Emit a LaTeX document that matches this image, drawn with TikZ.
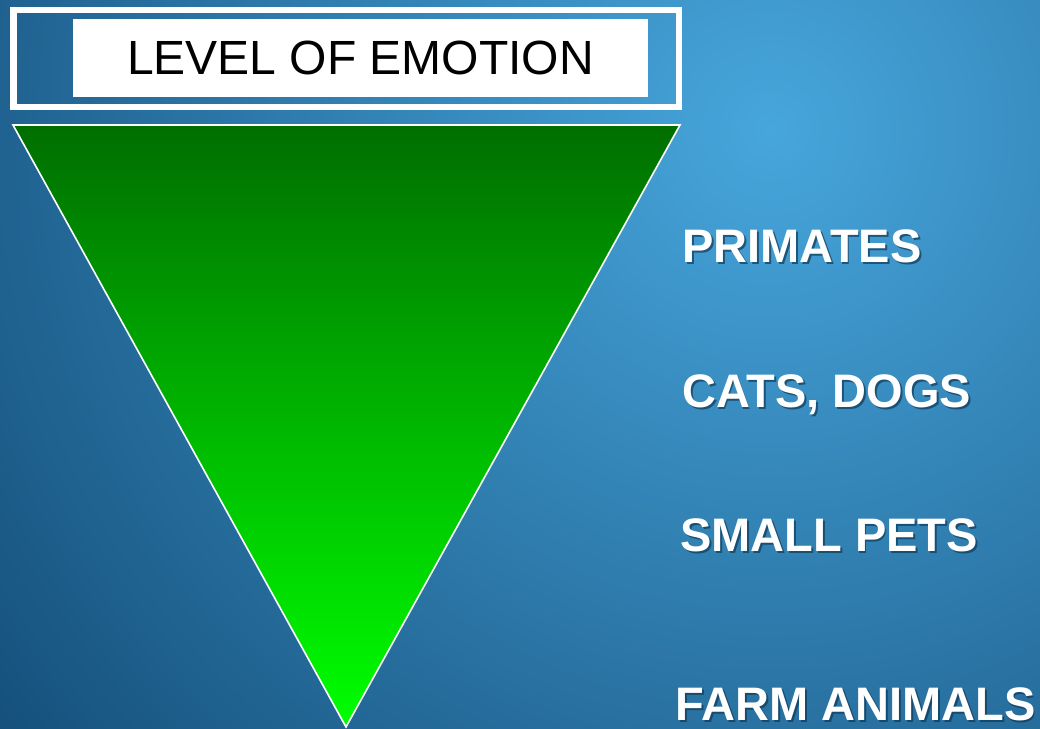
\documentclass[tikz,border=0pt]{standalone}
\usepackage{fontspec}
\setmainfont{Liberation Sans}
\definecolor{bginner}{HTML}{47A6DC}
\definecolor{bgouter}{HTML}{144E7A}
\definecolor{tritop}{HTML}{006E00}
\definecolor{tribot}{HTML}{00FF00}
\definecolor{shadowcol}{HTML}{0E3A58}
\tikzset{
  label/.style={anchor=base west, text=white, font=\fontsize{47}{50}\selectfont\bfseries, inner sep=0pt, text depth=0pt},
  labelshadow/.style={label, text=shadowcol, opacity=0.7},
}
\begin{document}
\begin{tikzpicture}[x=1pt,y=-1pt]
  \useasboundingbox (0,0) rectangle (1040,728);
  % backdrop: radial glow toward the upper right
  \begin{scope}
    \clip (0,0) rectangle (1040,728);
    \shade[inner color=bginner, outer color=bgouter] (770,130) circle (1000);
  \end{scope}
  % title frame
  \draw[white, line width=6.5] (13.5,10) rectangle (679,107);
  \node[fill=white, minimum width=575, minimum height=78, inner sep=0pt] (title) at (360.5,58)
    {\fontsize{48}{50}\selectfont LEVEL OF EMOTION};
  % inverted triangle
  \shade[top color=tritop, bottom color=tribot, draw=white, line width=1.6]
    (13,125) -- (680,125) -- (346,727) -- cycle;
  % labels with drop shadow
  \foreach \t/\x/\y in {PRIMATES/682/262, {CATS, DOGS}/682/407, SMALL PETS/680/551, FARM ANIMALS/675/720} {
    \node[labelshadow] at (\x+1.8,\y+2) {\t};
    \node[label] at (\x,\y) {\t};
  }
\end{tikzpicture}
\end{document}
